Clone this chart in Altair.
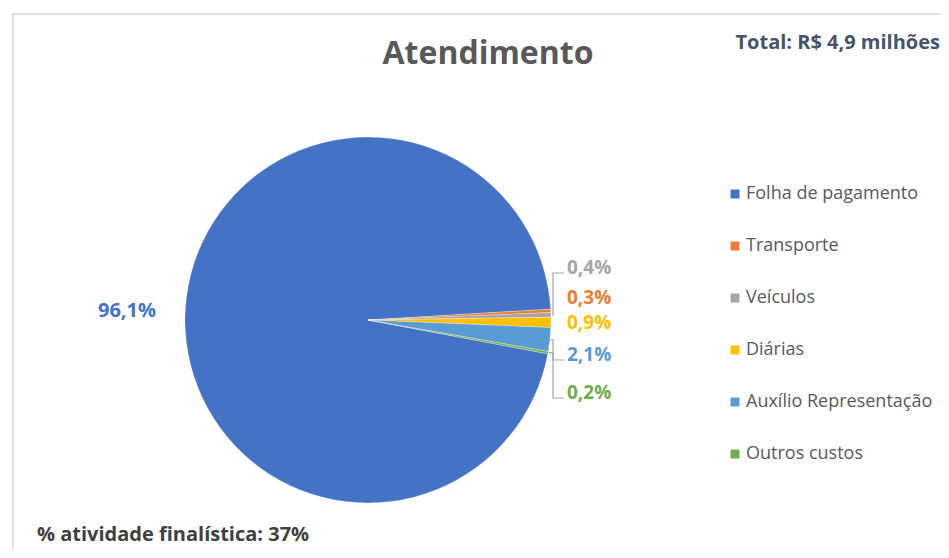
import math
import altair as alt
import pandas as pd

# ---- data ----
categories = ["Folha de pagamento", "Transporte", "Veículos", "Diárias", "Auxílio Representação", "Outros custos"]
shares = [96.1, 0.3, 0.4, 0.9, 2.1, 0.2]
labels = ["96,1%", "0,3%", "0,4%", "0,9%", "2,1%", "0,2%"]
colors = ["#4472C4", "#ED7D31", "#A5A5A5", "#FFC000", "#5B9BD5", "#70AD47"]
title_text = "Atendimento"
total_text = "Total: R$ 4,9 milhões"
footer_text = "% atividade finalística: 37%"

# ---- layout (chart pixel coords) ----
W, H = 933, 542
CX, CY, R = 360, 312, 183
START_DEG = 86.6  # where the small slices begin (clockwise from 12 o'clock)
draw_order = [1, 2, 3, 4, 5, 0]  # small slices first, Folha last
label_x_small = 559
label_y_small = {"Transporte": 290, "Veículos": 260, "Diárias": 315,
                 "Auxílio Representação": 347, "Outros custos": 385}
leader_for = ["Veículos", "Auxílio Representação", "Outros custos"]
bracket_x = 545
FONT = "Open Sans"

df = pd.DataFrame({"cat": categories, "share": shares, "label": labels})
df["ord"] = [draw_order.index(i) for i in range(len(categories))]

start = math.radians(START_DEG)
color_scale = alt.Scale(domain=categories, range=colors)

base = alt.Chart(df)
pie = base.mark_arc(stroke="white", strokeWidth=0.3, outerRadius=R).encode(
    theta=alt.Theta("share:Q", stack=True, scale=alt.Scale(range=[start, start + 2 * math.pi])),
    order=alt.Order("ord:Q"),
    color=alt.Color("cat:N", scale=color_scale, sort=categories,
                    legend=alt.Legend(title=None, orient="none", legendX=718, legendY=177,
                                      symbolType="square", symbolSize=80, symbolStrokeWidth=0,
                                      labelFont=FONT, labelFontSize=18, labelColor="#595959",
                                      rowPadding=34, labelOffset=2, labelLimit=300)),
    x=alt.value(CX), y=alt.value(CY),
)

# label positions computed from geometry
tot = sum(shares)
cum = 0.0
mid = {}
for i in draw_order:
    a0 = start + cum / tot * 2 * math.pi
    cum += shares[i]
    a1 = start + cum / tot * 2 * math.pi
    mid[categories[i]] = (a0 + a1) / 2

lab_rows = []
for c, lab in zip(categories, labels):
    if c == "Folha de pagamento":
        continue
    lab_rows.append({"cat": c, "label": lab, "px": label_x_small, "py": label_y_small[c]})
labdf = pd.DataFrame(lab_rows)

small_labels = alt.Chart(labdf).mark_text(align="left", baseline="middle", font=FONT,
                                          fontSize=19, fontWeight="bold").encode(
    x=alt.X("px:Q", scale=None), y=alt.Y("py:Q", scale=None), text="label:N",
    color=alt.Color("cat:N", scale=color_scale, legend=None))

big = df[df.cat == "Folha de pagamento"].copy()
big_label = alt.Chart(big).mark_text(align="center", baseline="middle", font=FONT,
                                     fontSize=20, fontWeight="bold").encode(
    x=alt.value(119), y=alt.value(303), text="label:N",
    color=alt.Color("cat:N", scale=color_scale, legend=None))

lead_rows = []
for c in leader_for:
    a = mid[c]
    ex = CX + R * math.sin(a)
    ey = CY - R * math.cos(a)
    ly = label_y_small[c] + 5
    pts = [(ex + 1, ey), (bracket_x, ey), (bracket_x, ly), (label_x_small - 3, ly)]
    for k, (px, py) in enumerate(pts):
        lead_rows.append({"cat": c, "k": k, "px": px, "py": py})
leaddf = pd.DataFrame(lead_rows)
leaders = alt.Chart(leaddf).mark_line(color="#A6A6A6", strokeWidth=1.2).encode(
    x=alt.X("px:Q", scale=None), y=alt.Y("py:Q", scale=None), detail="cat:N", order="k:Q")

texts = pd.DataFrame({"t": [title_text, total_text, footer_text]})
title = alt.Chart(texts.iloc[[0]]).mark_text(font=FONT, fontSize=32, fontWeight="bold",
                                             color="#595959", align="center", baseline="alphabetic").encode(
    x=alt.value(480), y=alt.value(56), text="t:N")
total = alt.Chart(texts.iloc[[1]]).mark_text(font=FONT, fontSize=20, fontWeight="bold",
                                             color="#44546A", align="right", baseline="alphabetic").encode(
    x=alt.value(932), y=alt.value(41), text="t:N")
footer = alt.Chart(texts.iloc[[2]]).mark_text(font=FONT, fontSize=20, fontWeight="bold",
                                              color="#404040", align="left", baseline="alphabetic").encode(
    x=alt.value(29), y=alt.value(533), text="t:N")

frame = alt.Chart(texts.iloc[[0]]).mark_rect(fill="white", stroke="#D9D9D9", strokeWidth=1.5).encode(
    x=alt.value(5), y=alt.value(6), x2=alt.value(950), y2=alt.value(546))

chart = alt.layer(frame, pie, leaders, small_labels, big_label, title, total, footer).properties(
    width=W, height=H, padding=0, autosize=alt.AutoSizeParams(type="none"), background="white"
).configure_view(stroke=None)

chart.save("out.html", embed_options={"renderer": "svg", "actions": False})
